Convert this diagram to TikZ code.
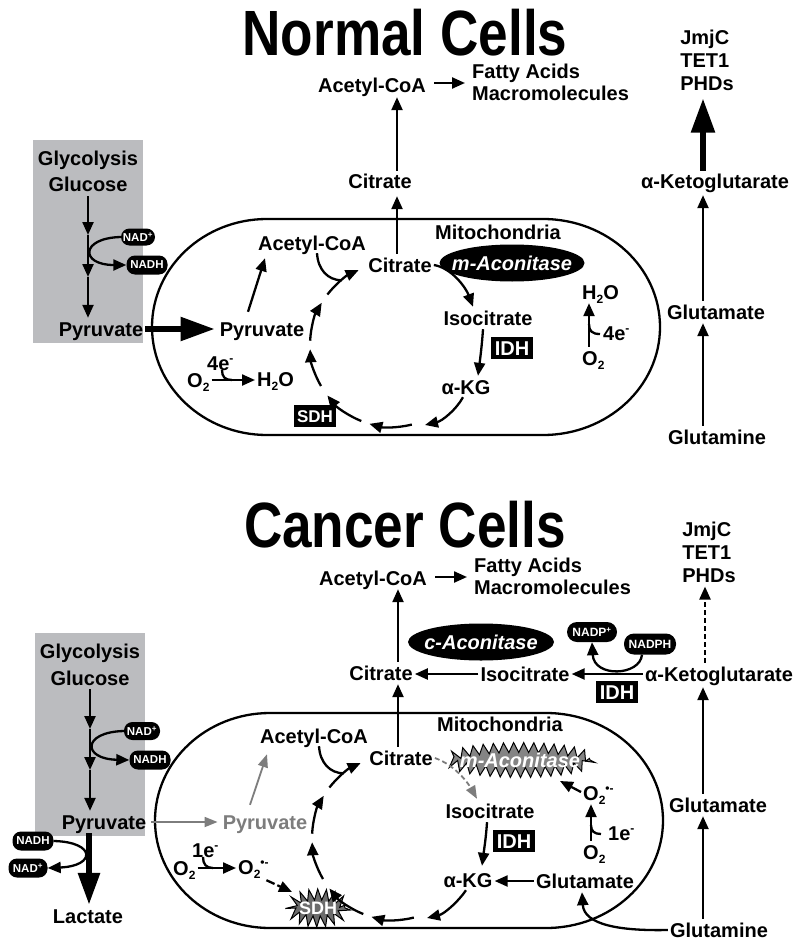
\documentclass[tikz,border=0pt]{standalone}
\usepackage{fontspec}
\usepackage{graphicx}
\setmainfont{Liberation Sans}
\usetikzlibrary{arrows.meta,shapes.geometric,decorations.pathmorphing,calc}
\definecolor{boxgray}{RGB}{187,188,191}
\definecolor{midgray}{RGB}{125,125,125}
\definecolor{stargray}{RGB}{132,132,132}
\definecolor{sdhgray}{RGB}{108,108,108}
\newcommand{\mysub}[1]{\raisebox{-4.5pt}{\fontsize{12}{12}\selectfont #1}}
\newcommand{\mysup}[1]{\raisebox{8pt}{\fontsize{12}{12}\selectfont #1}}
\begin{document}
\begin{tikzpicture}[x=1pt,y=-1pt,
 txt/.style={font=\bfseries\fontsize{20}{22}\selectfont, text height=14pt, text depth=0pt, inner xsep=2pt, inner ysep=4pt},
 mtxt/.style={font=\bfseries\fontsize{20}{22}\selectfont, inner xsep=2pt, inner ysep=4pt},
 jtxt/.style={font=\bfseries\fontsize{20}{23}\selectfont, inner xsep=2pt, inner ysep=4pt, align=left},
 ttl/.style={font=\bfseries\fontsize{64}{68}\selectfont, anchor=base, inner sep=0pt},
 arr/.style={line width=2.3pt, -{Triangle[length=13pt,width=11pt]}},
 thickarr/.style={line width=5.5pt, -{Triangle[length=34pt,width=23pt]}},
 garr/.style={line width=1.8pt, draw=midgray, -{Triangle[length=13pt,width=10pt]}},
 gdash/.style={line width=1.8pt, draw=midgray, dash pattern=on 5pt off 3pt, -{Triangle[length=13pt,width=10pt]}},
 mline/.style={line width=2.3pt},
 pill/.style={fill=black, text=white, rounded corners=8.5pt, font=\bfseries\fontsize{11.5}{12}\selectfont, inner sep=0pt},
 blk/.style={fill=black, text=white, font=\bfseries\fontsize{20}{22}\selectfont, inner xsep=4pt, inner ysep=4pt, text height=14pt, text depth=0pt},
 sdhbox/.style={blk, font=\bfseries\fontsize{17}{19}\selectfont, inner xsep=3pt, inner ysep=4.5pt, text height=12.5pt},
 boval/.style={ellipse, fill=black, text=white, font=\bfseries\itshape\fontsize{20}{22}\selectfont, inner xsep=-15pt, inner ysep=0pt, text height=14pt, text depth=0pt},
 starb/.style={draw=black, line width=1pt, fill=stargray, decorate, decoration={zigzag, segment length=10pt, amplitude=5pt}},
 starc/.style={draw=black, line width=1pt, fill=sdhgray, decorate, decoration={zigzag, segment length=8pt, amplitude=5.5pt}},
]
\useasboundingbox (0,0) rectangle (800,944);

% ================= TITLES =================
\node[ttl] (t1) at (405,56) {\scalebox{0.83}[1]{Normal Cells}};
\node[ttl] (t2) at (405,547) {\scalebox{0.83}[1]{Cancer Cells}};

% ================= NORMAL CELLS =================
\fill[boxgray] (33,140) rectangle (143,343);
\draw[mline] (267,219) -- (543,219) arc[start angle=-90,end angle=90,x radius=117,y radius=108] -- (267,435) arc[start angle=90,end angle=270,x radius=115,y radius=108] -- cycle;

\node[txt] (glyc1) at (88,158) {Glycolysis};
\node[txt] (gluc1) at (88,185) {Glucose};
\node[txt] (pyr1) at (101,329) {Pyruvate};
\node[pill, minimum width=34pt, minimum height=17pt] (nad1) at (138,237) {NAD\textsuperscript{+}};
\node[pill, minimum width=41pt, minimum height=19pt] (nadh1) at (147,265) {NADH};
\coordinate (gx1) at (88,0);
\coordinate (ga1) at (88,235);
\coordinate (gb1) at (88,277);
\draw[arr] (gluc1.south -| gx1) -- (ga1);
\draw[arr] (ga1) -- (gb1);
\draw[arr] (gb1) -- (pyr1.north -| gx1);
\draw[arr] (nad1.west) .. controls (80,238) and (80,265) .. (nadh1.west);

\node[txt] (pyr1i) at (262,329) {Pyruvate};
\draw[thickarr] (pyr1.east) -- ($(pyr1i.west)+(-3,0)$);

\node[txt] (acoA1i) at (312,243) {Acetyl-CoA};
\node[txt] (cit1i) at (400,265) {Citrate};
\node[txt] (mito1) at (498,232) {Mitochondria};
\node[boval, minimum width=145pt, minimum height=37pt] (macon1) at (512,263) {m-Aconitase};
\node[txt] (iso1) at (488,318) {Isocitrate};
\node[blk] (idh1) at (512,348) {IDH};
\node[txt] (akg1i) at (466,387) {α-KG};
\node[sdhbox] (sdh1) at (315,416) {SDH};

\draw[arr] ($(pyr1i.north)+(-14,-6)$) -- ($(acoA1i.south)+(-47,4)$);
\draw[arr] (cit1i.east) .. controls (452,268) and (466,288) .. ($(iso1.north)+(-15,0)$);
\draw[arr] ($(iso1.south)+(-5,0)$) .. controls (482,345) and (480,360) .. ($(akg1i.north)+(12,0)$);
\coordinate (e1) at (425,425);
\draw[arr] ($(akg1i.south)+(-3,-1)$) .. controls (456,410) and (442,421) .. (e1);

% TCA cycle (normal)
\coordinate (cyc1) at (392,345);
\begin{scope}[shift={(392,345)}]
\draw[arr] (76:82) arc[start angle=76, end angle=106, radius=82];
\draw[arr] (112:82) arc[start angle=112, end angle=142, radius=82];
\draw[arr] (150:82) arc[start angle=150, end angle=177, radius=82];
\draw[arr] (183:82) arc[start angle=183, end angle=211, radius=82];
\draw[arr] (218:82) arc[start angle=218, end angle=246, radius=82];
\end{scope}
\draw[mline] ($(acoA1i.south)+(5,-1)$) .. controls (318,270) and (328,280) .. ($(cyc1)+(232:82)$);

% exits
\node[txt] (cit1o) at (380,182) {Citrate};
\node[txt] (acoA1) at (372,86) {Acetyl-CoA};
\node[mtxt, align=left, anchor=west] (fa1) at (470,82) {Fatty Acids\\Macromolecules};
\coordinate (cx1) at (397,0);
\draw[arr, shorten >=3pt] (cit1i.north -| cx1) -- (cit1o.south -| cx1);
\draw[arr] (cit1o.north -| cx1) -- (acoA1.south -| cx1);
\draw[arr] ($(acoA1.east)+(6,-3)$) -- ($(fa1.west)+(-5,1)$);

% right column
\node[jtxt] (jm1) at (707,60) {JmjC\\TET1\\PHDs};
\node[txt] (akg1) at (715,182) {α-Ketoglutarate};
\node[txt] (glu1) at (716,312) {Glutamate};
\node[txt] (gln1) at (717,437) {Glutamine};
\coordinate (kx1) at (703,0);
\draw[thickarr] (akg1.north -| kx1) -- ($(jm1.south -| kx1)+(0,4)$);
\draw[arr, shorten >=2pt] (glu1.north -| kx1) -- (akg1.south -| kx1);
\draw[arr] (gln1.north -| kx1) -- (glu1.south -| kx1);

% O2 -> H2O
\node[txt, anchor=west] (h2o1r) at (580,292) {H\mysub{2}O};
\node[txt, anchor=west] (o21r) at (580,358) {O\mysub{2}};
\node[txt, anchor=west] (e41r) at (601,333) {4e\mysup{-}};
\coordinate (ox1) at (589,0);
\draw[arr] (o21r.north -| ox1) -- (h2o1r.south -| ox1);
\draw[mline] (600,334) .. controls (592,334) and (589,331) .. (589,324);

\node[txt, anchor=west] (o21l) at (185,380) {O\mysub{2}};
\node[txt, anchor=west] (h2o1l) at (255,379) {H\mysub{2}O};
\node[txt, anchor=west] (e41l) at (205,363) {4e\mysup{-}};
\draw[arr] (o21l.east) -- (o21l.east -| h2o1l.west);
\draw[mline] (222,370) .. controls (222,377) and (225,380) .. (232,380);

% ================= CANCER CELLS =================
\fill[boxgray] (35,633) rectangle (145,836);
\draw[mline] (270,713) -- (546,713) arc[start angle=-90,end angle=90,x radius=117,y radius=107.5] -- (270,928) arc[start angle=90,end angle=270,x radius=115,y radius=107.5] -- cycle;

\node[txt] (glyc2) at (90,651) {Glycolysis};
\node[txt] (gluc2) at (90,678) {Glucose};
\node[txt] (pyr2) at (104,822) {Pyruvate};
\node[pill, minimum width=36pt, minimum height=18pt] (nad2) at (142,731) {NAD\textsuperscript{+}};
\node[pill, minimum width=41pt, minimum height=19pt] (nadh2) at (150,760) {NADH};
\coordinate (gx2) at (90,0);
\coordinate (ga2) at (90,729);
\coordinate (gb2) at (90,770);
\draw[arr] (gluc2.south -| gx2) -- (ga2);
\draw[arr] (ga2) -- (gb2);
\draw[arr] (gb2) -- (pyr2.north -| gx2);
\draw[arr] (nad2.west) .. controls (82,732) and (82,759) .. (nadh2.west);

% lactate
\node[pill, minimum width=41pt, minimum height=19pt] (nadh3) at (33,841) {NADH};
\node[pill, minimum width=39pt, minimum height=19pt] (nad3) at (28,868) {NAD\textsuperscript{+}};
\node[txt] (lac) at (88,916) {Lactate};
\coordinate (lx) at (89,0);
\draw[line width=6pt, -{Triangle[length=32pt,width=21pt]}] (pyr2.south -| lx) -- (lac.north -| lx);
\draw[arr] (nadh3.east) .. controls (96,842) and (96,866) .. (nad3.east);

% gray pyruvate
\node[txt, text=midgray] (pyr2i) at (265,822) {Pyruvate};
\draw[garr] ($(pyr2.east)+(3,0)$) -- ($(pyr2i.west)+(-3,0)$);
\node[txt] (acoA2i) at (314,736) {Acetyl-CoA};
\draw[garr] ($(pyr2i.north)+(-15,-6)$) -- ($(acoA2i.south)+(-47,7)$);

\node[txt] (cit2i) at (401,758) {Citrate};
\node[txt] (mito2) at (500,724) {Mitochondria};
\path[starb] (520,760) ellipse [x radius=70, y radius=12.5];
\node[txt, font=\bfseries\itshape\fontsize{20}{22}\selectfont, text=white] (macon2) at (520,760) {m-Aconitase};
\node[txt] (iso2i) at (490,811) {Isocitrate};
\node[blk] (idh2i) at (514,841) {IDH};
\node[txt] (akg2i) at (468,880) {α-KG};
\node[txt] (glu2i) at (585,881) {Glutamate};

\draw[gdash] (cit2i.east) .. controls (455,765) and (468,783) .. ($(iso2i.north)+(-13,-1)$);
\draw[arr] ($(iso2i.south)+(-3,0)$) .. controls (486,838) and (484,850) .. ($(akg2i.north)+(14,-3)$);
\draw[arr] (glu2i.west) -- (glu2i.west -| akg2i.east);
\coordinate (e2) at (427,918);
\draw[arr] ($(akg2i.south)+(-2,-1)$) .. controls (458,902) and (444,914) .. (e2);

% SDH star
\path[starc] (318,908) ellipse [x radius=27, y radius=13.5];
\node[txt, font=\bfseries\fontsize{18}{20}\selectfont, text height=13pt, text=white] (sdh2) at (318,908) {SDH};

% TCA cycle (cancer)
\coordinate (cyc2) at (394,838);
\begin{scope}[shift={(394,838)}]
\draw[arr] (76:82) arc[start angle=76, end angle=106, radius=82];
\draw[arr] (112:82) arc[start angle=112, end angle=142, radius=82];
\draw[arr] (150:82) arc[start angle=150, end angle=177, radius=82];
\draw[arr] (183:82) arc[start angle=183, end angle=211, radius=82];
\draw[arr] (218:82) arc[start angle=218, end angle=246, radius=82];
\end{scope}
\draw[mline] ($(acoA2i.south)+(5,-1)$) .. controls (320,763) and (330,773) .. ($(cyc2)+(232:82)$);

% O2 species
\node[txt, anchor=west] (o2s2r) at (581,793) {O\mysub{2}\mysup{•-}};
\node[txt, anchor=west] (o22r) at (581,852) {O\mysub{2}};
\node[txt, anchor=west] (e12r) at (606,833) {1e\mysup{-}};
\coordinate (ox2) at (591,0);
\draw[arr] (o22r.north -| ox2) -- (o2s2r.south -| ox2);
\draw[mline] (601,834) .. controls (594,834) and (591,831) .. (591,825);
\coordinate (ma2) at (560,781);
\draw[arr] ($(o2s2r.west)+(0,-1)$) -- (ma2);

\node[txt, anchor=west] (o22l) at (171,868) {O\mysub{2}};
\node[txt, anchor=west] (o2s2l) at (236,867) {O\mysub{2}\mysup{•-}};
\node[txt, anchor=west] (e12l) at (190,850) {1e\mysup{-}};
\draw[arr] (o22l.east) -- (o22l.east -| o2s2l.west);
\draw[mline] (203,857) .. controls (203,864) and (206,868) .. (213,868);
\coordinate (sd2) at (292,892);
\draw[arr, dash pattern=on 9pt off 3pt] ($(o2s2l.south)+(13,2)$) -- (sd2);

% cytosol (cancer)
\node[txt] (cit2o) at (381,673) {Citrate};
\node[txt] (acoA2) at (373,578) {Acetyl-CoA};
\node[mtxt, align=left, anchor=west] (fa2) at (472,576) {Fatty Acids\\Macromolecules};
\draw[arr] ($(acoA2.east)+(6,-1)$) -- ($(fa2.west)+(-5,1)$);
\coordinate (cx2) at (398,0);
\draw[arr] (cit2i.north -| cx2) -- (cit2o.south -| cx2);
\draw[arr] (cit2o.north -| cx2) -- (acoA2.south -| cx2);
\node[txt] (iso2o) at (525,674) {Isocitrate};
\node[txt] (akg2) at (719,674) {α-Ketoglutarate};
\draw[arr] (iso2o.west) -- (iso2o.west -| cit2o.east);
\draw[arr] (akg2.west) -- (akg2.west -| iso2o.east);
\node[boval, minimum width=146pt, minimum height=37pt] (cacon) at (481,642) {c-Aconitase};
\node[pill, font=\bfseries\fontsize{12}{13}\selectfont, minimum width=50pt, minimum height=20pt, rounded corners=10pt] (nadp) at (592,632) {NADP\textsuperscript{+}};
\node[pill, font=\bfseries\fontsize{12}{13}\selectfont, minimum width=52pt, minimum height=21pt, rounded corners=10pt, inner xsep=-2pt] (nadph) at (650,644) {NADPH};
\draw[arr] ($(nadph.south)+(-8,0)$) .. controls (640,676) and (594,678) .. (nadp.south);
\node[blk] (idh2o) at (617,692) {IDH};

\node[jtxt] (jm2) at (709,552) {JmjC\\TET1\\PHDs};
\coordinate (kx2) at (705,0);
\draw[arr, dash pattern=on 5pt off 3pt] (akg2.north -| kx2) -- (jm2.south -| kx2);
\node[txt] (glu2) at (718,805) {Glutamate};
\node[txt] (gln2) at (719,930) {Glutamine};
\coordinate (kx3) at (703,0);
\draw[arr, shorten >=2pt] (glu2.north -| kx3) -- (akg2.south -| kx3);
\draw[arr] (gln2.north -| kx3) -- (glu2.south -| kx3);
\draw[arr] (gln2.west) .. controls (620,931) and (584,925) .. ($(glu2i.south)+(-3,0)$);
\end{tikzpicture}
\end{document}
